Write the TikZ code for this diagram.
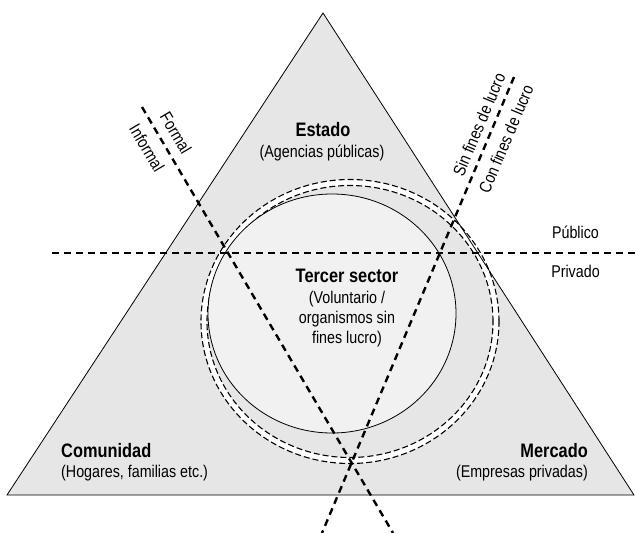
\documentclass[tikz,border=0pt]{standalone}
\usepackage{fontspec}
\setmainfont{Liberation Sans}[FakeStretch=0.84]
\usetikzlibrary{shapes.geometric}
\definecolor{sectorgray}{HTML}{E6E6E7}
\definecolor{corelight}{HTML}{F1F1F1}
\newcommand{\lbl}{\fontsize{17}{20}\selectfont}
\newcommand{\ttl}{\fontsize{19.5}{20}\selectfont\bfseries}

\begin{document}
\begin{tikzpicture}[x=1pt, y=-1pt,
    title/.style={font=\ttl, inner sep=0pt, anchor=base},
    desc/.style={font=\lbl, inner sep=0pt, anchor=base, align=center},
    divider/.style={line width=2.4pt, dash pattern=on 7pt off 5pt},
    ring/.style={line width=1.1pt, dash pattern=on 6pt off 3pt}]
    \useasboundingbox (0,0) rectangle (635,533);

    % Triangle
    \coordinate (apex) at (323,13);
    \coordinate (corner-l) at (7,495);
    \coordinate (corner-r) at (634,495);
    \fill[sectorgray] (apex) -- (corner-l) -- (corner-r) -- cycle;

    % Rings round the third sector
    \draw[white, line width=6pt] (350,321.5) ellipse [x radius=146pt, y radius=139pt];
    \draw[ring] (350,321.5) ellipse [x radius=149pt, y radius=142pt];
    \draw[ring] (350,321.5) ellipse [x radius=143pt, y radius=136pt];
    \node[draw, ellipse, fill=corelight, line width=0.8pt, inner sep=0pt,
          minimum width=248pt, minimum height=239pt] (core) at (332,313.5) {};

    \draw[line width=0.8pt, line join=miter] (apex) -- (corner-l) -- (corner-r) -- cycle;

    % Dividing lines
    \coordinate (split-l) at (52,253);
    \coordinate (split-r) at (635,253);
    \coordinate (formal-top) at (142,107);
    \coordinate (formal-end) at (393,533);
    \coordinate (lucro-top) at (514,77);
    \coordinate (lucro-end) at (322,533);
    \draw[divider] (split-l) -- (split-r);
    \draw[divider] (formal-top) -- (formal-end);
    \draw[divider] (lucro-top) -- (lucro-end);

    % Line labels
    \node[desc] (publico) at (575.5,238) {Público};
    \node[desc] (privado) at (575.5,277) {Privado};
    \node[font=\lbl, inner sep=0pt, rotate=-59.4] (formal) at (176,133) {Formal};
    \node[font=\lbl, inner sep=0pt, rotate=-59.4] (informal) at (147,148) {Informal};
    \node[font=\lbl, inner sep=0pt, rotate=67.1] (sin-fines) at (479,124.5) {Sin fines de lucro};
    \node[font=\lbl, inner sep=0pt, rotate=67.1] (con-fines) at (506,139) {Con fines de lucro};

    % Sectors
    \node[title] (estado) at (323,136) {Estado};
    \node[desc] (estado-sub) at (322,157) {(Agencias públicas)};
    \node[title] (tercer) at (347,282) {Tercer sector};
    \node[desc] (tercer-sub) at (347,343) {(Voluntario /\\organismos sin\\fines lucro)};
    \node[title, anchor=base west] (comunidad) at (61,457) {Comunidad};
    \node[desc, anchor=base west] (comunidad-sub) at (61,477) {(Hogares, familias etc.)};
    \node[title, anchor=base east] (mercado) at (588,457) {Mercado};
    \node[desc, anchor=base east] (mercado-sub) at (588,477) {(Empresas privadas)};

\end{tikzpicture}
\end{document}
